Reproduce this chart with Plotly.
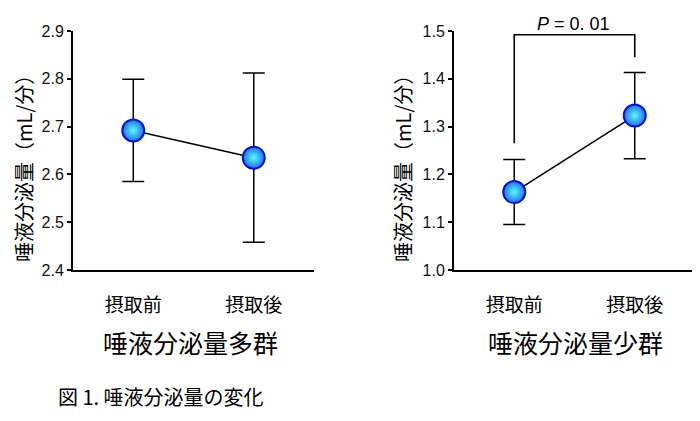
import plotly.graph_objects as go

categories = ["摂取前", "摂取後"]

# High secretion group
high_mean = [2.692, 2.635]
high_err = [0.107, 0.177]

# Low secretion group
low_mean = [1.163, 1.323]
low_err = [0.068, 0.090]

high_ticks = [2.4, 2.5, 2.6, 2.7, 2.8, 2.9]
low_ticks = [1.0, 1.1, 1.2, 1.3, 1.4, 1.5]

# significance bracket (low group)
bracket_x = [0, 0, 1, 1]
bracket_y = [1.265, 1.492, 1.492, 1.445]
p_label = "<i>P</i> = 0. 01"

group_titles = ["唾液分泌量多群", "唾液分泌量少群"]
ytitle = "唾液分泌量（mL/分）"
caption = "図 1. 唾液分泌量の変化"

# page body has an 8px margin; size the figure to fit in the 700x421 window
OFF = 8
W, H = 700 - 2 * OFF, 421 - 2 * OFF
CJK = "Noto Sans CJK JP"
LAT = "Liberation Sans, Arial"

fig = go.Figure()

marker = dict(size=22, color="#1f6fe8",
              gradient=dict(type="radial", color="#5ff8ff"),
              line=dict(color="#0a14c8", width=2))

xpos = [0, 1]
for mean, err, xa, ya in [(high_mean, high_err, "x", "y"), (low_mean, low_err, "x2", "y2")]:
    fig.add_trace(go.Scatter(
        x=xpos, y=mean, xaxis=xa, yaxis=ya, mode="lines+markers",
        line=dict(color="black", width=1.5),
        marker=marker,
        error_y=dict(type="data", array=err, color="black", thickness=1.5, width=11),
        showlegend=False, cliponaxis=False))

fig.add_trace(go.Scatter(x=bracket_x, y=bracket_y, xaxis="x2", yaxis="y2",
                         mode="lines", line=dict(color="black", width=1.6),
                         showlegend=False, cliponaxis=False))

def px_x(p):
    return min(1.0, max(0.0, (p - OFF) / W))

def px_y(p):
    return min(1.0, max(0.0, 1 - (p - OFF) / H))

ydom = [px_y(270), px_y(31)]
axis_common = dict(showgrid=False, zeroline=False, showline=True, linecolor="black", linewidth=2,
                   automargin=False)

UNIT = (314 - 73) / 2.0          # pixels per category step
x2_left, x2_right = 454, min(694, OFF + W)
x2_range = [-0.5, -0.5 + (x2_right - x2_left) / UNIT]

fig.update_layout(
    width=W, height=H, margin=dict(l=0, r=0, t=0, b=0, pad=0), autosize=False,
    plot_bgcolor="white", paper_bgcolor="white",
    xaxis=dict(domain=[px_x(73), px_x(314)], range=[-0.5, 1.5], tickvals=xpos, ticktext=categories,
               ticks="", ticklabelstandoff=17, tickfont=dict(family=CJK, size=19, color="black"),
               **axis_common),
    yaxis=dict(domain=ydom, range=[2.4, 2.9], tickvals=high_ticks, ticktext=[f"{v:.1f}" for v in high_ticks],
               ticks="outside", ticklen=4, tickwidth=2, tickcolor="black",
               tickfont=dict(family=LAT, size=16, color="#111"), **axis_common),
    xaxis2=dict(domain=[px_x(x2_left), px_x(x2_right)], range=x2_range, tickvals=xpos, ticktext=categories,
                ticks="", ticklabelstandoff=17, tickfont=dict(family=CJK, size=19, color="black"),
                anchor="y2", **axis_common),
    yaxis2=dict(domain=ydom, range=[1.0, 1.5], tickvals=low_ticks, ticktext=[f"{v:.1f}" for v in low_ticks],
                ticks="outside", ticklen=4, tickwidth=2, tickcolor="black",
                tickfont=dict(family=LAT, size=16, color="#111"), anchor="x2", **axis_common),
)

annos = []
common = dict(showarrow=False, xref="paper", yref="paper", xanchor="center", yanchor="middle")
annos.append(dict(x=px_x(190), y=px_y(342), text=group_titles[0],
                  font=dict(family=CJK, size=25, color="black"), **common))
annos.append(dict(x=px_x(575), y=px_y(342), text=group_titles[1],
                  font=dict(family=CJK, size=25, color="black"), **common))
for xp in [23, 402]:
    annos.append(dict(x=px_x(xp), y=px_y(164), text=ytitle, textangle=-90,
                      font=dict(family=CJK, size=20, color="black"), **common))
annos.append(dict(x=px_x(573), y=px_y(24), text=p_label,
                  font=dict(family=LAT, size=18, color="black"), **common))
annos.append(dict(x=px_x(56), y=px_y(413), text=caption, showarrow=False, xanchor="left", yanchor="bottom",
                  xref="paper", yref="paper", font=dict(family=CJK, size=20, color="black")))
fig.update_layout(annotations=annos)

fig.write_html("out.html")
